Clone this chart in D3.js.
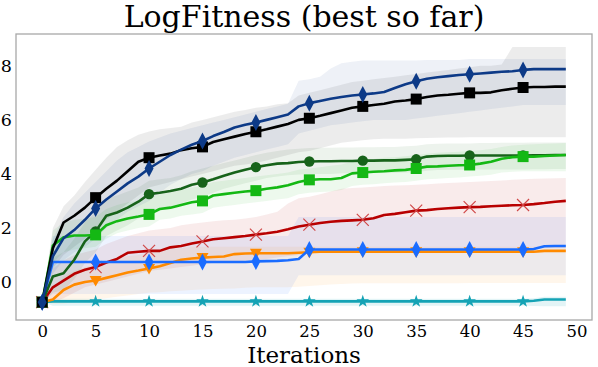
<!DOCTYPE html>
<html><head><meta charset="utf-8">
<script src="https://cdn.jsdelivr.net/npm/d3@7"></script>
<style>body{margin:0;background:#fff}svg{display:block}text{font-family:'DejaVu Serif',serif;fill:#000}</style>
</head><body><svg id="c" width="598" height="367"></svg>
<script>
const iterations = d3.range(50);
const xTicks = [0,5,10,15,20,25,30,35,40,45,50];
const yTicks = [0,2,4,6,8];
const markerIdx = [0,5,10,15,20,25,30,35,40,45];

const navyMean = [-0.75,0.95,1.62,1.92,2.3,2.72,3.05,3.35,3.65,3.9, 4.2,4.45,4.7,4.9,5.08,5.22,5.4,5.55,5.72,5.82, 5.9,6.0,6.1,6.2,6.5,6.62,6.7,6.78,6.85,6.9, 6.94,6.98,7.03,7.18,7.32,7.43,7.52,7.58,7.62,7.66, 7.69,7.72,7.75,7.78,7.8,7.85,7.88,7.88,7.88,7.88];
const navyHi = [-0.75,1.6,2.4,2.9,3.3,3.7,4.1,4.5,4.8,5.0, 5.2,5.35,5.5,5.6,5.7,5.8,5.9,6.0,6.1,6.2, 6.3,6.4,6.5,6.6,7.45,7.5,7.6,7.9,8.1,8.15, 8.2,8.2,8.2,8.2,8.2,8.2,8.22,8.22,8.22,8.22, 8.25,8.25,8.25,8.25,8.25,8.25,8.25,8.25,8.25,8.25];
const navyLo = [-0.75,0.3,0.8,1.1,1.3,1.6,2.0,2.3,2.6,2.8, 3.0,3.3,3.6,3.8,4.0,4.1,4.3,4.45,4.6,4.7, 4.8,4.9,5.0,5.1,5.5,5.6,5.7,5.8,5.85,5.9, 5.95,6.0,6.0,6.0,6.0,6.05,6.1,6.15,6.2,6.25, 6.3,6.35,6.4,6.45,6.5,6.55,6.55,6.55,6.55,6.55];

const blackMean = [-0.75,1.25,2.2,2.45,2.75,3.12,3.45,3.75,4.1,4.45, 4.6,4.68,4.75,4.88,4.95,5.0,5.18,5.28,5.38,5.48, 5.56,5.65,5.75,5.85,6.0,6.06,6.15,6.25,6.35,6.45, 6.5,6.55,6.6,6.68,6.72,6.77,6.85,6.9,6.93,6.97, 7.0,7.0,7.02,7.1,7.15,7.2,7.22,7.22,7.23,7.23];
const blackHi = [-0.75,2.0,2.8,3.2,3.7,4.15,4.6,5.0,5.25,5.45, 5.57,5.65,5.7,5.75,5.9,6.0,6.1,6.2,6.3,6.37, 6.45,6.5,6.58,6.62,6.9,7.0,7.1,7.2,7.3,7.4, 7.45,7.5,7.55,7.6,7.65,7.7,7.75,7.8,7.85,7.9, 7.95,8.0,8.0,8.05,8.7,8.7,8.7,8.7,8.7,8.7];
const blackLo = [-0.75,0.5,1.0,1.3,1.6,2.0,2.3,2.6,2.9,3.2, 3.5,3.6,3.7,3.8,3.9,4.0,4.1,4.2,4.3,4.35, 4.4,4.5,4.6,4.7,4.8,4.85,4.95,5.05,5.15,5.2, 5.25,5.28,5.3,5.3,5.3,5.32,5.33,5.34,5.35,5.35, 5.36,5.36,5.36,5.36,5.36,5.36,5.36,5.36,5.36,5.36];

const dgreenMean = [-0.75,0.2,0.32,0.82,1.5,1.87,2.45,2.57,2.75,2.97, 3.25,3.3,3.37,3.45,3.6,3.68,3.8,3.93,4.05,4.15, 4.25,4.32,4.38,4.4,4.44,4.46,4.47,4.47,4.48,4.48, 4.49,4.49,4.5,4.5,4.52,4.54,4.64,4.66,4.67,4.67, 4.68,4.68,4.68,4.68,4.68,4.68,4.69,4.69,4.7,4.7];
const dgreenHi = [-0.75,0.9,1.1,1.6,2.2,2.6,3.1,3.2,3.35,3.5, 3.75,3.8,3.85,3.95,4.1,4.2,4.3,4.4,4.5,4.6, 4.7,4.78,4.85,4.9,4.93,4.96,4.97,4.97,4.98,4.98, 4.99,4.99,5.0,5.0,5.02,5.04,5.1,5.12,5.13,5.13, 5.13,5.14,5.14,5.15,5.15,5.15,5.16,5.16,5.16,5.16];
const dgreenLo = [-0.75,-0.4,-0.3,0.1,0.7,1.1,1.7,1.9,2.1,2.35, 2.6,2.7,2.8,2.9,3.05,3.15,3.3,3.45,3.55,3.65, 3.75,3.85,3.9,3.95,3.98,4.0,4.0,4.0,4.02,4.02, 4.03,4.03,4.04,4.04,4.05,4.06,4.12,4.14,4.15,4.15, 4.16,4.16,4.16,4.16,4.16,4.16,4.17,4.17,4.18,4.18];

const greenMean = [-0.75,1.35,1.65,1.72,1.72,1.74,2.1,2.25,2.35,2.42, 2.5,2.7,2.75,2.85,2.95,3.0,3.2,3.25,3.3,3.35, 3.38,3.45,3.5,3.58,3.7,3.78,3.8,3.8,3.85,4.02, 4.05,4.08,4.1,4.13,4.15,4.2,4.27,4.28,4.3,4.32, 4.33,4.38,4.45,4.56,4.62,4.64,4.64,4.66,4.68,4.7];
const greenHi = [-0.75,1.9,2.2,2.3,2.35,2.4,2.7,2.85,2.95,3.0, 3.1,3.25,3.3,3.4,3.5,3.55,3.7,3.75,3.8,3.85, 3.9,3.95,4.0,4.05,4.15,4.2,4.25,4.3,4.35,4.45, 4.5,4.55,4.6,4.62,4.65,4.7,4.75,4.78,4.8,4.82, 4.85,4.88,4.92,5.0,5.05,5.08,5.1,5.12,5.13,5.14];
const greenLo = [-0.75,0.7,1.1,1.2,1.25,1.3,1.6,1.8,1.9,2.0, 2.05,2.3,2.35,2.45,2.5,2.55,2.75,2.8,2.85,2.9, 2.95,3.0,3.05,3.1,3.25,3.3,3.33,3.35,3.4,3.55, 3.6,3.62,3.65,3.68,3.7,3.75,3.8,3.82,3.85,3.87, 3.9,3.93,3.97,4.05,4.08,4.1,4.1,4.1,4.1,4.1];

const redMean = [-0.75,-0.2,0.05,0.3,0.45,0.55,0.72,0.85,1.08,1.12, 1.15,1.15,1.28,1.33,1.42,1.5,1.58,1.62,1.66,1.7, 1.75,1.8,1.86,1.95,2.05,2.12,2.18,2.23,2.26,2.28, 2.3,2.36,2.48,2.52,2.58,2.64,2.66,2.7,2.73,2.75, 2.77,2.78,2.8,2.82,2.84,2.85,2.88,2.92,2.97,3.0];
const redHi = [-0.75,0.5,0.8,1.0,1.1,1.2,1.4,1.55,1.7,1.8, 1.9,1.95,2.0,2.1,2.15,2.2,2.25,2.28,2.3,2.35, 2.4,2.5,2.6,2.9,3.1,3.15,3.25,3.35,3.45,3.48, 3.5,3.52,3.55,3.57,3.58,3.6,3.62,3.64,3.66,3.68, 3.7,3.72,3.74,3.76,3.78,3.8,3.82,3.83,3.84,3.85];
const redLo = [-0.75,-0.75,-0.6,-0.4,-0.2,-0.1,0.0,0.1,0.2,0.3, 0.4,0.45,0.5,0.55,0.6,0.65,0.7,0.72,0.75,0.78, 0.8,0.85,0.9,0.95,1.0,1.05,1.1,1.12,1.14,1.15, 1.16,1.18,1.2,1.2,1.2,1.22,1.22,1.22,1.23,1.23, 1.24,1.24,1.24,1.25,1.25,1.25,1.25,1.25,1.25,1.25];

const blueMean = [-0.75,0.74,0.74,0.74,0.74,0.74,0.74,0.74,0.74,0.74, 0.74,0.74,0.74,0.74,0.74,0.74,0.74,0.74,0.74,0.74, 0.76,0.77,0.78,0.8,0.85,1.2,1.2,1.2,1.2,1.2, 1.2,1.2,1.2,1.2,1.2,1.2,1.2,1.2,1.2,1.2, 1.2,1.2,1.2,1.2,1.2,1.2,1.22,1.32,1.33,1.33];
const blueHi = [-0.75,1.7,1.7,1.7,1.7,1.7,1.7,1.7,1.7,1.7, 1.7,1.7,1.7,1.7,1.7,1.7,1.7,1.7,1.7,1.7, 1.7,1.7,1.7,1.7,2.4,2.4,2.4,2.4,2.4,2.4, 2.4,2.4,2.4,2.4,2.4,2.4,2.4,2.4,2.4,2.4, 2.4,2.4,2.4,2.4,2.4,2.4,2.4,2.4,2.4,2.4];
const blueLo = [-0.75,-0.45,-0.45,-0.45,-0.45,-0.45,-0.45,-0.45,-0.45,-0.45, -0.45,-0.45,-0.45,-0.45,-0.45,-0.45,-0.45,-0.45,-0.45,-0.45, -0.45,-0.45,-0.45,-0.45,0.25,0.25,0.25,0.25,0.25,0.25, 0.25,0.25,0.25,0.25,0.25,0.25,0.25,0.25,0.25,0.25, 0.25,0.25,0.25,0.25,0.25,0.25,0.25,0.25,0.25,0.25];

const orangeMean = [-0.75,-0.65,-0.3,-0.1,0.0,0.05,0.15,0.25,0.35,0.42, 0.5,0.58,0.7,0.82,0.87,0.9,0.92,0.94,1.03,1.05, 1.06,1.06,1.06,1.06,1.08,1.1,1.12,1.12,1.12,1.12, 1.12,1.12,1.12,1.12,1.12,1.12,1.12,1.12,1.12,1.12, 1.12,1.12,1.12,1.12,1.12,1.12,1.12,1.15,1.15,1.15];
const orangeHi = [-0.75,-0.3,0.2,0.4,0.55,0.65,0.75,0.85,0.95,1.0, 1.1,1.15,1.2,1.25,1.3,1.3,1.3,1.3,1.3,1.3, 1.3,1.3,1.3,1.3,1.3,1.3,1.3,1.3,1.3,1.3, 1.3,1.3,1.3,1.3,1.3,1.3,1.3,1.3,1.3,1.3, 1.3,1.3,1.3,1.3,1.3,1.3,1.3,1.3,1.3,1.3];
const orangeLo = [-0.75,-0.8,-0.8,-0.75,-0.7,-0.65,-0.6,-0.55,-0.5,-0.45, -0.4,-0.38,-0.35,-0.33,-0.3,-0.28,-0.26,-0.25,-0.24,-0.22, -0.2,-0.2,-0.2,-0.2,-0.18,-0.15,-0.12,-0.1,-0.08,-0.06, -0.05,-0.05,-0.05,-0.05,-0.05,-0.05,-0.05,-0.05,-0.05,-0.05, -0.04,-0.04,-0.04,-0.04,-0.04,-0.04,-0.04,-0.04,-0.04,-0.04];

const tealMean = [-0.74,-0.72,-0.72,-0.72,-0.72,-0.72,-0.72,-0.72,-0.72,-0.72, -0.72,-0.72,-0.72,-0.72,-0.72,-0.72,-0.72,-0.72,-0.72,-0.72, -0.72,-0.72,-0.72,-0.72,-0.72,-0.72,-0.72,-0.72,-0.72,-0.72, -0.72,-0.72,-0.72,-0.72,-0.72,-0.72,-0.72,-0.72,-0.72,-0.72, -0.72,-0.72,-0.72,-0.72,-0.72,-0.72,-0.7,-0.65,-0.65,-0.65];
const tealHi = [-0.74,-0.62,-0.62,-0.62,-0.62,-0.62,-0.62,-0.62,-0.62,-0.62, -0.62,-0.62,-0.62,-0.62,-0.62,-0.62,-0.62,-0.62,-0.62,-0.62, -0.62,-0.62,-0.62,-0.62,-0.62,-0.62,-0.62,-0.62,-0.62,-0.62, -0.62,-0.62,-0.62,-0.62,-0.62,-0.62,-0.62,-0.62,-0.62,-0.62, -0.62,-0.62,-0.62,-0.62,-0.62,-0.62,-0.6,-0.55,-0.55,-0.55];
const tealLo = [-0.74,-0.88,-0.88,-0.88,-0.88,-0.88,-0.88,-0.88,-0.88,-0.88, -0.88,-0.88,-0.88,-0.88,-0.88,-0.88,-0.88,-0.88,-0.88,-0.88, -0.88,-0.88,-0.88,-0.88,-0.88,-0.88,-0.88,-0.88,-0.88,-0.88, -0.88,-0.88,-0.88,-0.88,-0.88,-0.88,-0.88,-0.88,-0.88,-0.88, -0.88,-0.88,-0.88,-0.88,-0.88,-0.88,-0.89,-0.9,-0.9,-0.9];

const series = [
  {mean: tealMean, lo: tealLo, hi: tealHi, color: "#15a3b5", alpha: 0.12, marker: "star"},
  {mean: redMean, lo: redLo, hi: redHi, color: "#b80000", alpha: 0.08, marker: "x"},
  {mean: orangeMean, lo: orangeLo, hi: orangeHi, color: "#ff8a00", alpha: 0.08, marker: "tri"},
  {mean: blueMean, lo: blueLo, hi: blueHi, color: "#1a6cff", alpha: 0.08, marker: "thin"},
  {mean: dgreenMean, lo: dgreenLo, hi: dgreenHi, color: "#17631a", alpha: 0.08, marker: "circle"},
  {mean: greenMean, lo: greenLo, hi: greenHi, color: "#14b814", alpha: 0.08, marker: "square"},
  {mean: blackMean, lo: blackLo, hi: blackHi, color: "#000000", alpha: 0.075, marker: "square"},
  {mean: navyMean, lo: navyLo, hi: navyHi, color: "#0d3a87", alpha: 0.07, marker: "thin"}
];

const svg = d3.select("#c");
const L = 16, R = 592, T = 34, B = 320;
const x = d3.scaleLinear().domain([-2.45, 51.45]).range([L, R]);
const y = d3.scaleLinear().domain([-1.41, 9.18]).range([B, T]);

const g = svg.append("g");
const area = d3.area().x((d,i)=>x(iterations[i])).y0(d=>y(d[0])).y1(d=>y(d[1]));
const line = d3.line().x((d,i)=>x(iterations[i])).y(d=>y(d));

series.forEach(s => {
  const pts = iterations.map(i => [s.lo[i], s.hi[i]]);
  g.append("path").attr("d", area(pts)).attr("fill", s.color).attr("fill-opacity", s.alpha);
});

function markerPath(type) {
  switch (type) {
    case "square": return "M-5.5,-5.5H5.5V5.5H-5.5Z";
    case "circle": return d3.symbol(d3.symbolCircle, 85)();
    case "thin": return "M0,-8.5L4.5,0L0,8.5L-4.5,0Z";
    case "tri": return "M-6,-4.5L6,-4.5L0,6Z";
    case "star": return d3.symbol(d3.symbolStar, 50)();
    case "x": return "M-6,-6L6,6M-6,6L6,-6";
  }
}

series.forEach(s => {
  const sg = g.append("g");
  sg.append("path").attr("d", line(s.mean)).attr("fill", "none")
    .attr("stroke", s.color).attr("stroke-width", 2.6).attr("stroke-linejoin", "round");
  markerIdx.forEach(i => {
    const m = sg.append("path").attr("d", markerPath(s.marker))
      .attr("transform", `translate(${x(iterations[i])},${y(s.mean[i])})`);
    if (s.marker === "x") m.attr("fill", "none").attr("stroke", "#d04848").attr("stroke-width", 1.2);
    else m.attr("fill", s.color);
  });
});

svg.append("rect").attr("x", L).attr("y", T).attr("width", R - L).attr("height", B - T)
  .attr("fill", "none").attr("stroke", "#a8a8a8").attr("stroke-width", 1.3);

const xa = svg.append("g").attr("transform", `translate(0,${B})`)
  .call(d3.axisBottom(x).tickValues(xTicks).tickSize(0).tickPadding(5).tickFormat(d3.format("d")));
xa.select(".domain").remove();
xa.selectAll("text").attr("font-family", "DejaVu Serif").attr("font-size", 16.5).attr("fill", "#000");

const ya = svg.append("g").attr("transform", `translate(${L},0)`)
  .call(d3.axisLeft(y).tickValues(yTicks).tickSize(0).tickPadding(4).tickFormat(d3.format("d")));
ya.select(".domain").remove();
ya.selectAll("text").attr("font-family", "DejaVu Serif").attr("font-size", 17.5).attr("fill", "#000");

svg.append("text").attr("x", (L + R) / 2).attr("y", 26.5).attr("text-anchor", "middle")
  .attr("font-size", 30).text("LogFitness (best so far)");
svg.append("text").attr("x", (L + R) / 2).attr("y", 363).attr("text-anchor", "middle")
  .attr("font-size", 23).text("Iterations");
</script></body></html>
